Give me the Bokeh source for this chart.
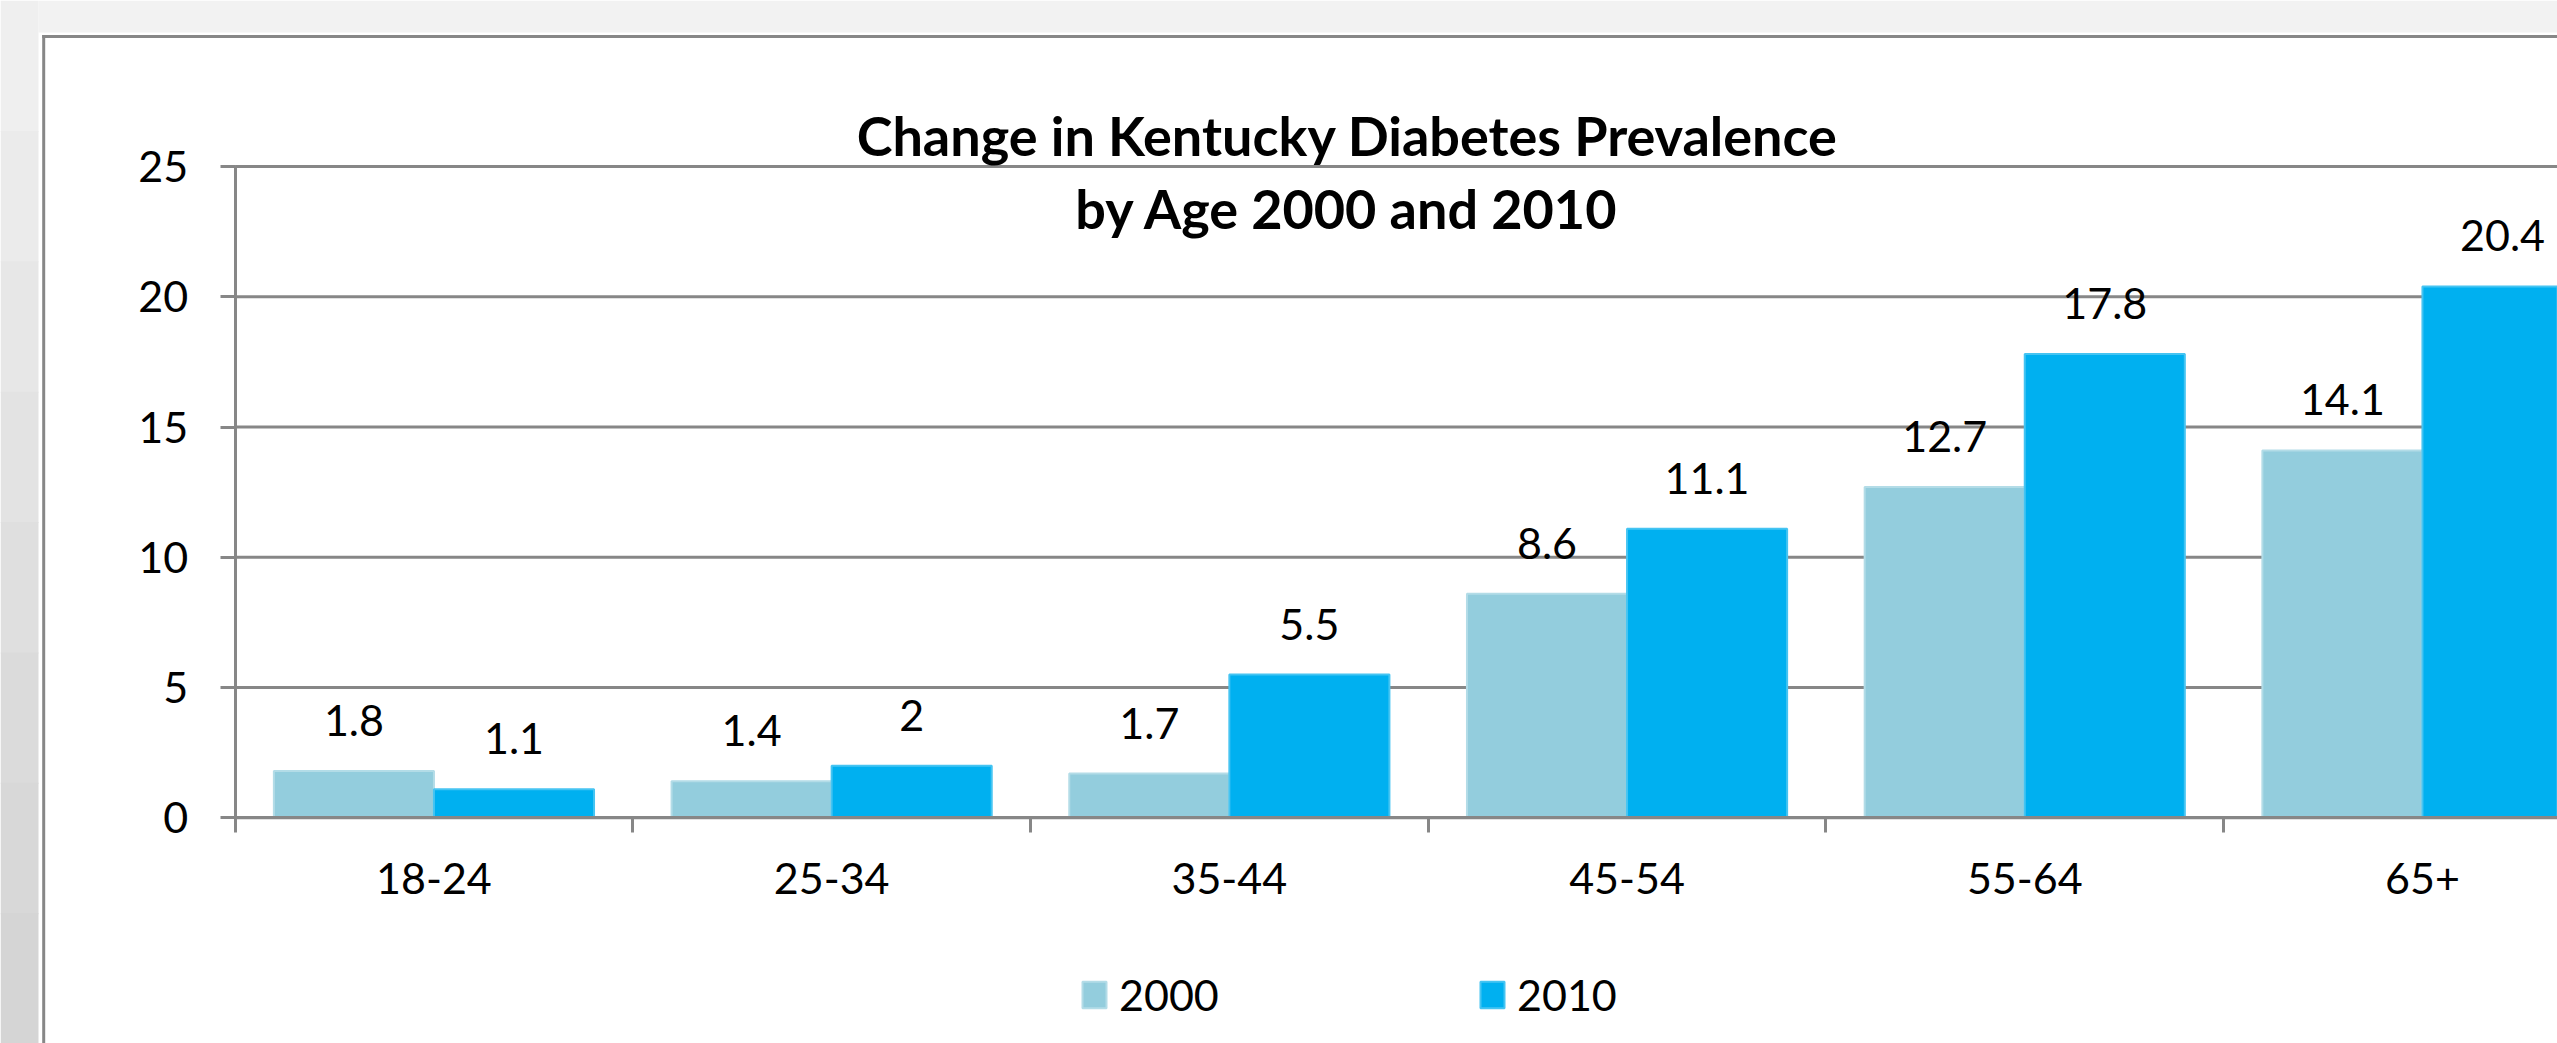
from bokeh.plotting import figure
from bokeh.models import (Range1d, FixedTicker, LabelSet, ColumnDataSource, Label,
                          BoxAnnotation, Legend, LegendItem)
from bokeh.core.properties import value
from bokeh.embed import file_html
from bokeh.resources import INLINE

# ---- data ----
categories = ["18-24", "25-34", "35-44", "45-54", "55-64", "65+"]
series_names = ["2000", "2010"]
values_2000 = [1.8, 1.4, 1.7, 8.6, 12.7, 14.1]
values_2010 = [1.1, 2, 5.5, 11.1, 17.8, 20.4]
y_ticks = [0, 5, 10, 15, 20, 25]
title_lines = ["Change in Kentucky Diabetes Prevalence", "by Age 2000 and 2010"]

# ---- layout constants (frame covers the whole canvas) ----
W, H = 2557, 1043
X0_PX, Y0_PX = 234.6, 817.3          # pixel position of data origin
PX_PER_CAT = 397.7
PX_PER_UNIT = 26.05
FONT = "Lato"
GRAY = "#878787"
C2000 = "#93CDDD"
C2010 = "#00B0F0"

x_start = -X0_PX / PX_PER_CAT
x_end = (W - X0_PX) / PX_PER_CAT
y_start = -(H - Y0_PX) / PX_PER_UNIT
y_end = Y0_PX / PX_PER_UNIT

p = figure(width=W, height=H, output_backend="svg", toolbar_location=None,
           x_range=Range1d(x_start, x_end), y_range=Range1d(y_start, y_end),
           min_border_left=0, min_border_top=0, min_border_bottom=0,
           min_border_right=0)
p.outline_line_color = None
p.background_fill_color = "white"
p.border_fill_color = "white"
p.grid.visible = False

# background decoration: gray surround and chart border
bands = ["#efefef", "#ebebeb", "#e7e7e7", "#e3e3e3", "#dfdfdf", "#dbdbdb",
         "#d8d8d8", "#d5d5d5"]
bh = H / len(bands)
for k, col in enumerate(bands):
    p.add_layout(BoxAnnotation(left=0, right=38, top=k * bh, bottom=(k + 1) * bh + 1,
                               left_units="canvas", right_units="canvas",
                               top_units="canvas", bottom_units="canvas",
                               fill_color=col, fill_alpha=1, line_color=None,
                               level="underlay"))
p.add_layout(BoxAnnotation(left=38, right=W, top=0, bottom=32,
                           left_units="canvas", right_units="canvas",
                           top_units="canvas", bottom_units="canvas",
                           fill_color="#f2f2f2", fill_alpha=1, line_color=None,
                           level="underlay"))
p.add_layout(BoxAnnotation(left=41.7, right=44.7, top=34.5, bottom=H,
                           left_units="canvas", right_units="canvas",
                           top_units="canvas", bottom_units="canvas",
                           fill_color=GRAY, fill_alpha=1, line_color=None,
                           level="underlay"))
p.add_layout(BoxAnnotation(left=41.7, right=W, top=34.5, bottom=37.5,
                           left_units="canvas", right_units="canvas",
                           top_units="canvas", bottom_units="canvas",
                           fill_color=GRAY, fill_alpha=1, line_color=None,
                           level="underlay"))

# horizontal gridlines from the tick values
p.segment(x0=[0] * len(y_ticks), x1=[x_end] * len(y_ticks), y0=y_ticks, y1=y_ticks,
          line_color=GRAY, line_width=3)

n = len(categories)
idx = list(range(n))
bw = 0.4025
src = ColumnDataSource(dict(
    cat=categories,
    x0=[i + 0.29875 for i in idx],
    x1=[i + 0.70125 for i in idx],
    v0=values_2000,
    v1=values_2010,
    t0=[f"{v:g}" for v in values_2000],
    t1=[f"{v:g}" for v in values_2010],
))

r0 = p.vbar(x="x0", top="v0", width=bw, source=src, fill_color=C2000,
            line_color="#b3dce7", line_width=2)
r1 = p.vbar(x="x1", top="v1", width=bw, source=src, fill_color=C2010,
            line_color="#45c4f2", line_width=2)

for xs, vs, ts in (("x0", "v0", "t0"), ("x1", "v1", "t1")):
    p.add_layout(LabelSet(x=xs, y=vs, text=ts, source=src, text_align="center",
                          text_baseline="alphabetic", y_offset=35,
                          text_font=value(FONT), text_font_size=value("43px"),
                          text_color="black"))

# x axis: labels at centers, ticks at category boundaries (minor ticks)
xa = p.xaxis[0]
xa.fixed_location = 0
xa.bounds = (0, x_end)
xa.ticker = FixedTicker(ticks=[i + 0.5 for i in idx], minor_ticks=list(range(n + 1)))
xa.major_label_overrides = {i + 0.5: c for i, c in enumerate(categories)}
xa.major_tick_line_color = None
xa.major_tick_out = 0
xa.major_tick_in = 0
xa.minor_tick_out = 15
xa.minor_tick_in = 0
xa.minor_tick_line_color = GRAY
xa.minor_tick_line_width = 3
xa.axis_line_color = GRAY
xa.axis_line_width = 3
xa.major_label_text_font = FONT
xa.major_label_text_font_size = "43px"
xa.major_label_text_color = "black"
xa.major_label_standoff = 30

ya = p.yaxis[0]
ya.fixed_location = 0
ya.bounds = (0, 25)
ya.ticker = FixedTicker(ticks=y_ticks)
ya.major_tick_out = 15
ya.major_tick_in = 0
ya.major_tick_line_color = GRAY
ya.major_tick_line_width = 3
ya.minor_tick_line_color = None
ya.axis_line_color = GRAY
ya.axis_line_width = 3
ya.major_label_text_font = FONT
ya.major_label_text_font_size = "43px"
ya.major_label_text_color = "black"
ya.major_label_standoff = 32

legend = Legend(items=[LegendItem(label=series_names[0], renderers=[r0]),
                       LegendItem(label=series_names[1], renderers=[r1])],
                location=(1079, 23), orientation="horizontal",
                glyph_width=30, glyph_height=33, label_standoff=10,
                label_width=358, spacing=0, padding=0, margin=0,
                border_line_color=None, background_fill_alpha=0,
                label_text_font=FONT, label_text_font_size="43px",
                label_text_color="black")
p.add_layout(legend)

# title
for txt, yb in zip(title_lines, (135, 208)):
    p.add_layout(Label(x=1347, y=yb, x_units="canvas", y_units="canvas", text=txt,
                       text_align="center", text_baseline="alphabetic",
                       text_font=FONT, text_font_style="bold",
                       text_font_size="54px", text_color="black"))

open("out.html", "w").write(file_html(p, INLINE))
